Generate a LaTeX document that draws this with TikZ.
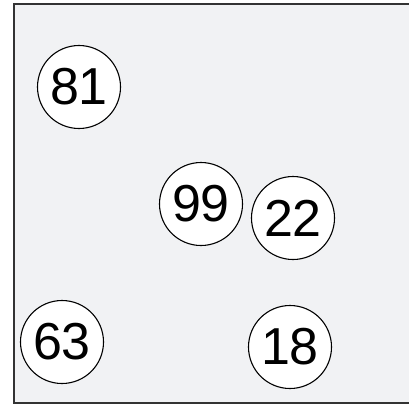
\documentclass[tikz,border=0pt]{standalone}
\usepackage{fontspec}
\setmainfont{Liberation Sans}
\definecolor{bgfill}{HTML}{F1F2F4}
\definecolor{frame}{HTML}{333333}
\begin{document}
\begin{tikzpicture}[x=1pt,y=-1pt,
  ball/.style={circle,draw=black,line width=1.1pt,fill=white,minimum size=83pt,inner sep=0pt,
    font=\fontsize{52}{52}\selectfont}]
\useasboundingbox (0,0) rectangle (409,404);
\fill[white] (0,0) rectangle (409,404);
\draw[fill=bgfill,draw=frame,line width=2pt] (14,4) rectangle (415,403);
\node[ball] (n81) at (79,87) {81};
\node[ball] (n99) at (201,204) {99};
\node[ball] (n22) at (293,218) {22};
\node[ball] (n63) at (62,342) {63};
\node[ball] (n18) at (290,347) {18};
\end{tikzpicture}
\end{document}
